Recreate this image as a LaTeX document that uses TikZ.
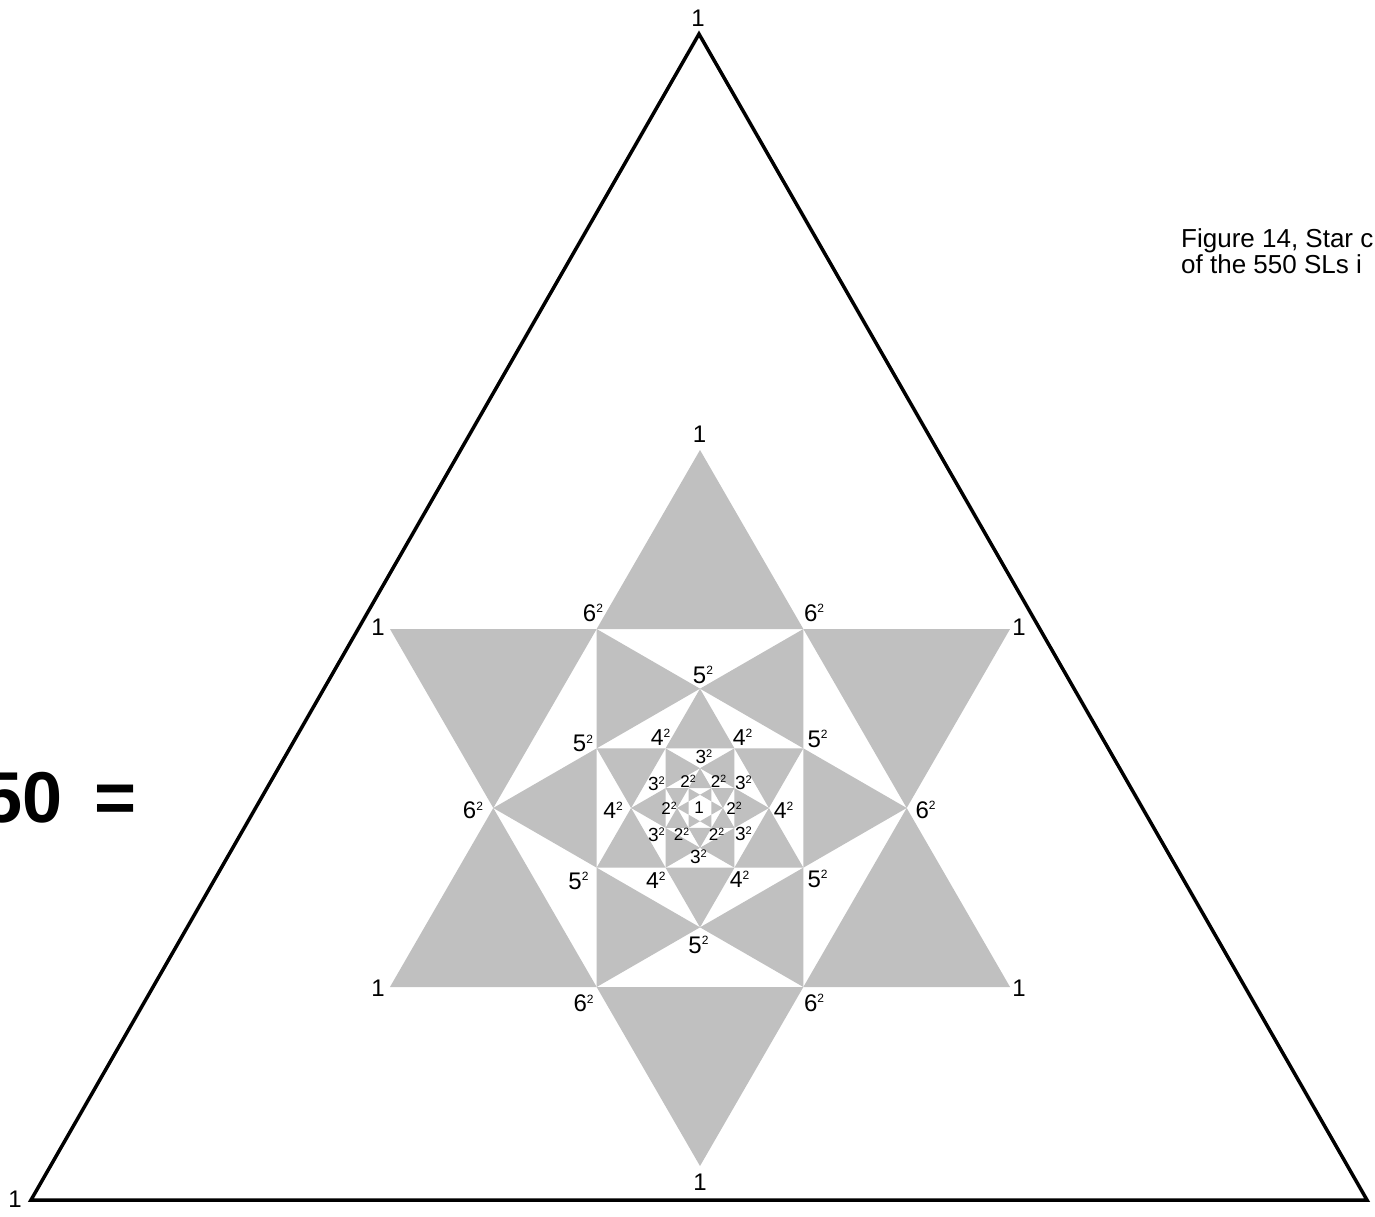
\documentclass[tikz,border=0pt]{standalone}
\usepackage{fontspec}
\setmainfont{Liberation Sans}
\usetikzlibrary{calc}
\definecolor{stargray}{RGB}{192,192,192}
\newcommand\pw[3]{{\fontsize{#1}{#1}\selectfont #3\raisebox{\dimexpr(#1pt-#2pt)*716/1000\relax}{\fontsize{#2}{#2}\selectfont 2}}}
\begin{document}
\begin{tikzpicture}[x=1pt,y=-1pt,
  lab/.style={inner sep=0pt, font=\fontsize{24}{24}\selectfont},
  graytri/.style={fill=stargray, draw=none},
  frame/.style={draw=black, line width=3.5pt, line join=miter}]
\useasboundingbox (0,0) rectangle (1375,1217);
\fill[white] (0,0) rectangle (1375,1217);
\begin{scope}
\clip (0,0) rectangle (1375,1217);
\coordinate (C) at (700,808);
% nested gray triangles: vertex of H_n with the two nearest vertices of H_{n-1}
\foreach \n/\R/\r/\o in {7/358/206.69/30, 6/206.69/119.33/0, 5/119.33/68.90/30, 4/68.90/39.78/0, 3/39.78/22.96/30, 2/22.96/13.26/0}{
  \foreach \k in {0,...,5}{
    \pgfmathsetmacro\a{\o+60*\k}
    \fill[graytri] ($(C)+({\R*cos(\a)},{-\R*sin(\a)})$) -- ($(C)+({\r*cos(\a+30)},{-\r*sin(\a+30)})$) -- ($(C)+({\r*cos(\a-30)},{-\r*sin(\a-30)})$) -- cycle;
  }
}
% outer triangle
\coordinate (T) at (699,34);
\coordinate (BL) at (31,1200);
\coordinate (BR) at (1367,1200);
\draw[frame] (T) -- (BL) -- (BR) -- cycle;

% labels of the outer triangle
\node[lab] (o1) at (698,18.5) {1};
\node[lab] (o2) at (15,1199) {1};
% hexagram points
\node[lab] (h1) at (699.5,434.5) {1};
\node[lab] (h2) at (700,1182) {1};
\node[lab] (h3) at (378,627.6) {1};
\node[lab] (h4) at (1019,627.6) {1};
\node[lab] (h5) at (378,988.5) {1};
\node[lab] (h6) at (1019,988.5) {1};
% 6^2
\node[lab] (s6a) at (593,613) {\pw{24}{12}{6}};
\node[lab] (s6b) at (814,613) {\pw{24}{12}{6}};
\node[lab] (s6c) at (473,810.5) {\pw{24}{12}{6}};
\node[lab] (s6d) at (925.5,810) {\pw{24}{12}{6}};
\node[lab] (s6e) at (583.6,1003.6) {\pw{24}{12}{6}};
\node[lab] (s6f) at (814,1003) {\pw{24}{12}{6}};
% 5^2
\node[lab] (s5a) at (703,675) {\pw{24}{12}{5}};
\node[lab] (s5b) at (583,743.5) {\pw{24}{12}{5}};
\node[lab] (s5c) at (817.5,739) {\pw{24}{12}{5}};
\node[lab] (s5d) at (578.5,881) {\pw{24}{12}{5}};
\node[lab] (s5e) at (817.5,879) {\pw{24}{12}{5}};
\node[lab] (s5f) at (698.5,945) {\pw{24}{12}{5}};
% 4^2
\node[lab] (s4a) at (660.5,737) {\pw{23}{12}{4}};
\node[lab] (s4b) at (742.6,737) {\pw{23}{12}{4}};
\node[lab] (s4c) at (613,810.5) {\pw{23}{12}{4}};
\node[lab] (s4d) at (783.5,810.5) {\pw{23}{12}{4}};
\node[lab] (s4e) at (655.8,880) {\pw{23}{12}{4}};
\node[lab] (s4f) at (739.5,879) {\pw{23}{12}{4}};
% 3^2
\node[lab] (s3a) at (704,756.5) {\pw{19}{11}{3}};
\node[lab] (s3b) at (656.5,783.5) {\pw{19}{11}{3}};
\node[lab] (s3c) at (743.5,782.7) {\pw{19}{11}{3}};
\node[lab] (s3d) at (656.5,834.5) {\pw{19}{11}{3}};
\node[lab] (s3e) at (743.5,834) {\pw{19}{11}{3}};
\node[lab] (s3f) at (698.5,857) {\pw{19}{11}{3}};
% 2^2
\node[lab] (s2a) at (688,781) {\pw{17}{10.5}{2}};
\node[lab] (s2b) at (718.5,781) {\pw{17}{10.5}{2}};
\node[lab] (s2c) at (669,808) {\pw{17}{10.5}{2}};
\node[lab] (s2d) at (734,808) {\pw{17}{10.5}{2}};
\node[lab] (s2e) at (681.5,834.5) {\pw{17}{10.5}{2}};
\node[lab] (s2f) at (716.5,834.5) {\pw{17}{10.5}{2}};
% centre
\node[lab, font=\fontsize{17}{17}\selectfont] (c1) at (699,808) {1};

% left equation and caption
\node[inner sep=0pt, anchor=base west, font=\fontsize{72}{72}\selectfont\bfseries] (eq) at (-58,822) {550\hspace{32pt}=};
\node[inner sep=0pt, anchor=base west, font=\fontsize{26}{26}\selectfont] (cap1) at (1181,247) {Figure 14, Star c};
\node[inner sep=0pt, anchor=base west, font=\fontsize{26}{26}\selectfont] (cap2) at (1181,273) {of the 550 SLs i};
\end{scope}
\end{tikzpicture}
\end{document}
